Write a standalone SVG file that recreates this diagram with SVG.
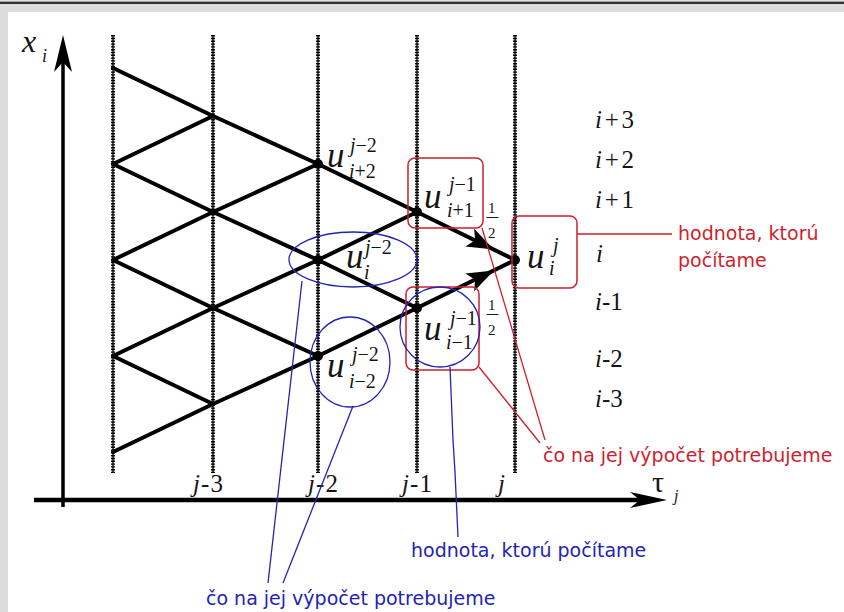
<svg xmlns="http://www.w3.org/2000/svg" width="844" height="612" viewBox="0 0 844 612">
<style>
.m{font-family:"Liberation Serif","Times New Roman",serif;fill:#151515}
.it{font-style:italic}
.u{font-size:35px;font-style:italic}
.s{font-size:20px}
.f{font-size:15px}
.lab{font-size:25px}
.red{fill:#d01e2e;font-family:"DejaVu Sans",sans-serif;font-size:19px}
.blue{fill:#2424b4;font-family:"DejaVu Sans",sans-serif;font-size:19px}
.grid{stroke:#000;stroke-width:4;fill:none;stroke-linejoin:round;stroke-linecap:round}
.vcore{stroke:#111;stroke-width:1.4}
.vdash{stroke:#000;stroke-width:4;stroke-dasharray:1.4 1.4}
.rbox{fill:none;stroke:#d01e2e;stroke-width:1.5}
.rl{stroke:#d01e2e;stroke-width:1.3;fill:none}
.bl{stroke:#2424b4;stroke-width:1.3;fill:none}
.dot{fill:#000}
</style>
<defs>
<path id="ah" d="M0,0 L-27,-10 L-21,0 L-27,10 Z" fill="#000"/>
</defs>

<g id="background">
<rect x="0" y="0" width="844" height="612" fill="#dcdcdc"/>
<rect x="0" y="1.7" width="844" height="2.3" fill="#333"/>
<rect x="8" y="12" width="836" height="600" fill="#fff"/>
</g>

<g id="time-levels">
<line class="vcore" x1="113" y1="35" x2="113" y2="473"/>
<line class="vdash" x1="113" y1="35" x2="113" y2="473"/>
<line class="vcore" x1="213" y1="35" x2="213" y2="473"/>
<line class="vdash" x1="213" y1="35" x2="213" y2="473"/>
<line class="vcore" x1="318" y1="35" x2="318" y2="473"/>
<line class="vdash" x1="318" y1="35" x2="318" y2="473"/>
<line class="vcore" x1="417" y1="35" x2="417" y2="473"/>
<line class="vdash" x1="417" y1="35" x2="417" y2="473"/>
<line class="vcore" x1="515" y1="35" x2="515" y2="473"/>
<line class="vdash" x1="515" y1="35" x2="515" y2="473"/>
</g>

<g id="axes">
<line x1="63" y1="507" x2="63" y2="62" stroke="#000" stroke-width="3.5"/>
<polygon points="63,35 72,72 63,62 54,72" fill="#000"/>
<line x1="34" y1="500" x2="645" y2="500" stroke="#000" stroke-width="4.5"/>
<polygon points="667,500 630,492 640,500 630,508" fill="#000"/>
<text class="m it" x="22" y="52" font-size="32">x</text>
<text class="m it" x="42" y="62" font-size="18">i</text>
<text class="m" x="652" y="492" font-size="30">τ</text>
<text class="m it" x="674" y="501" font-size="16">j</text>
<text class="m lab" x="193" y="492" textLength="30"><tspan class="it">j</tspan>-3</text>
<text class="m lab" x="308" y="492" textLength="30"><tspan class="it">j</tspan>-2</text>
<text class="m lab" x="402" y="492" textLength="30"><tspan class="it">j</tspan>-1</text>
<text class="m lab it" x="498" y="492">j</text>
</g>

<g id="row-labels">
<text class="m lab" x="595" y="128" textLength="39"><tspan class="it">i</tspan>+3</text>
<text class="m lab" x="595" y="168" textLength="39"><tspan class="it">i</tspan>+2</text>
<text class="m lab" x="595" y="208" textLength="39"><tspan class="it">i</tspan>+1</text>
<text class="m lab it" x="596" y="262">i</text>
<text class="m lab" x="595" y="310">
<tspan class="it">i</tspan>-1</text>
<text class="m lab" x="595" y="367"><tspan class="it">i</tspan>-2</text>
<text class="m lab" x="595" y="407"><tspan class="it">i</tspan>-3</text>
</g>

<g id="connectors">
<polyline class="grid" points="113,68 213,116 318,164 417,212 515,260"/>
<polyline class="grid" points="113,164 213,212 318,260 417,308"/>
<polyline class="grid" points="113,260 213,308 318,356"/>
<polyline class="grid" points="113,356 213,404"/>
<polyline class="grid" points="113,452 213,404 318,356 417,308 515,260"/>
<polyline class="grid" points="113,356 213,308 318,260 417,212"/>
<polyline class="grid" points="113,260 213,212 318,164"/>
<polyline class="grid" points="113,164 213,116"/>
<use href="#ah" transform="translate(494,249.5) rotate(26.1)"/>
<use href="#ah" transform="translate(494,270.5) rotate(-26.1)"/>
</g>

<g id="u_i2_j2">
<circle class="dot" cx="318" cy="164" r="5"/>
<text class="m u" x="327" y="167">u</text>
<text class="m s" x="350" y="152"><tspan class="it">j</tspan>−2</text>
<text class="m s" x="349" y="178"><tspan class="it">i</tspan>+2</text>
</g>

<g id="u_i1_j1">
<circle class="dot" cx="417" cy="212" r="5"/>
<text class="m u" x="424" y="208">u</text>
<text class="m s" x="449" y="191"><tspan class="it">j</tspan>−1</text>
<text class="m s" x="447" y="217"><tspan class="it">i</tspan>+1</text>
<text class="m f" x="488" y="213">1</text>
<line x1="486.5" y1="217.5" x2="498.5" y2="217.5" stroke="#151515" stroke-width="1"/>
<text class="m f" x="488" y="238">2</text>
</g>

<g id="u_i_j2">
<circle class="dot" cx="318" cy="260" r="5"/>
<text class="m u" x="346" y="268">u</text>
<text class="m s" x="365" y="254"><tspan class="it">j</tspan>−2</text>
<text class="m s it" x="364" y="279">i</text>
</g>

<g id="u_i_j">
<circle class="dot" cx="515" cy="260" r="5"/>
<text class="m u" x="527" y="268">u</text>
<text class="m s it" x="553" y="252">j</text>
<text class="m s it" x="549" y="275">i</text>
</g>

<g id="u_im1_j1">
<circle class="dot" cx="417" cy="308" r="5"/>
<text class="m u" x="424" y="340">u</text>
<text class="m s" x="450" y="325"><tspan class="it">j</tspan>−1</text>
<text class="m s" x="446" y="349"><tspan class="it">i</tspan>−1</text>
<text class="m f" x="488" y="310">1</text>
<line x1="486.5" y1="314.5" x2="498.5" y2="314.5" stroke="#151515" stroke-width="1"/>
<text class="m f" x="488" y="335">2</text>
</g>

<g id="u_im2_j2">
<circle class="dot" cx="318" cy="356" r="5"/>
<text class="m u" x="327" y="377">u</text>
<text class="m s" x="352" y="361"><tspan class="it">j</tspan>−2</text>
<text class="m s" x="349" y="388"><tspan class="it">i</tspan>−2</text>
</g>

<g id="red-annotations">
<rect class="rbox" x="408" y="158" width="75" height="70" rx="7"/>
<rect class="rbox" x="512" y="216" width="65" height="72" rx="7"/>
<rect class="rbox" x="406" y="287" width="73" height="83" rx="7"/>
<line class="rl" x1="577" y1="234" x2="672" y2="234"/>
<line class="rl" x1="482" y1="228" x2="545" y2="440"/>
<line class="rl" x1="479" y1="367" x2="540" y2="443"/>
<text class="red" x="678" y="240">hodnota, ktorú</text>
<text class="red" x="678" y="267">počítame</text>
<text class="red" x="543" y="462">čo na jej výpočet potrebujeme</text>
</g>

<g id="blue-annotations">
<ellipse class="bl" cx="353" cy="259.5" rx="64" ry="27.5"/>
<ellipse class="bl" cx="350" cy="362" rx="40" ry="45"/>
<ellipse class="bl" cx="440" cy="327" rx="40" ry="40"/>
<line class="bl" x1="302" y1="281" x2="268" y2="583"/>
<line class="bl" x1="353" y1="406" x2="283" y2="583"/>
<polyline class="bl" points="450,367 453,440 455,472 458,537"/>
<text class="blue" x="411" y="557">hodnota, ktorú počítame</text>
<text class="blue" x="206" y="605">čo na jej výpočet potrebujeme</text>
</g>
</svg>
